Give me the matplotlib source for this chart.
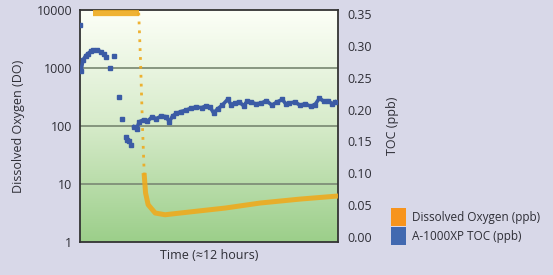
import numpy as np
import matplotlib.pyplot as plt
from matplotlib.patches import Patch

# dissolved oxygen (ppb), left log axis; time in hours
do_plateau_t = [0.59, 2.72]
do_plateau = [9000, 9000]
do_drop_t = [2.72, 2.80, 2.90, 2.98]
do_drop = [9000, 1500, 90, 14]
do_tail_t = [2.98, 3.04, 3.16, 3.49, 3.95, 5.12, 6.76, 8.39, 10.26, 12.0]
do_tail = [14, 7, 4.4, 3.16, 2.95, 3.3, 3.85, 4.7, 5.5, 6.2]

# A-1000XP TOC (ppb), right linear axis
toc_start_t = [0.03, 0.12, 0.24, 0.36, 0.50, 0.61, 0.78, 0.94, 1.08, 1.19]
toc_start = [0.261, 0.278, 0.284, 0.288, 0.292, 0.293, 0.293, 0.291, 0.287, 0.283]
toc_dots_t = [0.0, 1.40, 1.56, 1.80, 1.96, 2.12, 2.19, 2.26, 2.37]
toc_dots = [0.333, 0.265, 0.284, 0.219, 0.186, 0.157, 0.153, 0.150, 0.145]
toc_main_t = [2.50, 2.62, 2.75, 2.95, 3.13, 3.33, 3.55, 3.78, 3.99, 4.15, 4.30,
              4.48, 4.70, 4.92, 5.14, 5.40, 5.65, 5.88, 6.05, 6.21, 6.40, 6.62,
              6.87, 7.03, 7.20, 7.42, 7.61, 7.78, 7.94, 8.18, 8.43, 8.68, 8.93,
              9.18, 9.42, 9.58, 9.75, 10.0, 10.24, 10.50, 10.74, 10.95, 11.15,
              11.35, 11.56, 11.75, 11.89]
toc_main = [0.173, 0.170, 0.181, 0.184, 0.182, 0.188, 0.186, 0.190, 0.189, 0.181,
            0.190, 0.194, 0.197, 0.199, 0.202, 0.204, 0.203, 0.206, 0.204, 0.195,
            0.201, 0.207, 0.216, 0.208, 0.210, 0.212, 0.206, 0.213, 0.212, 0.209,
            0.210, 0.214, 0.207, 0.212, 0.216, 0.209, 0.210, 0.212, 0.207, 0.209,
            0.205, 0.208, 0.218, 0.213, 0.214, 0.209, 0.212]

left_ticks = [1, 10, 100, 1000, 10000]
right_ticks = [0.0, 0.05, 0.10, 0.15, 0.20, 0.25, 0.30, 0.35]

orange = '#eeaa1e'
blue = '#3b5ba5'
txt = '#2e2e36'

plt.rcParams['font.family'] = ['Open Sans', 'DejaVu Sans']

fig = plt.figure(figsize=(5.53, 2.75), dpi=100, facecolor='#d8d8e8')
ax = fig.add_axes([0.1454, 0.12, 0.4651, 0.8436])

# green gradient background of the plot area
grad = np.linspace(0, 1, 256)[:, None]
top = np.array([0.99, 1.0, 0.97])
mid = np.array([0.84, 0.92, 0.79])
bot = np.array([0.61, 0.81, 0.54])
rgb = np.where(grad < 0.5,
               top + (mid - top) * (grad / 0.5),
               mid + (bot - mid) * ((grad - 0.5) / 0.5))
img = rgb.reshape(256, 1, 3)
ax.imshow(img, extent=[0, 1, 0, 1], transform=ax.transAxes, aspect='auto', zorder=0)

ax.set_yscale('log')
ax.set_xlim(0, 12)
ax.set_ylim(1, 10000)
ax.set_yticks(left_ticks)
ax.set_yticklabels([str(v) for v in left_ticks])
ax.minorticks_off()
ax.set_xticks([])
ax.tick_params(axis='y', length=0, labelsize=9, colors=txt, pad=6)
for y in [10, 100, 1000]:
    ax.axhline(y, color='#7f8f78', lw=1.3, zorder=1)
for s in ax.spines.values():
    s.set_color('#333333')
    s.set_linewidth(1.3)

ax.plot(do_plateau_t, do_plateau, color=orange, lw=4.5, alpha=0.9, solid_capstyle='butt', zorder=3)
ax.plot(do_drop_t, do_drop, color=orange, lw=2, ls=(0, (1, 2.2)), alpha=0.9, zorder=3)
ax.plot(do_tail_t, do_tail, color=orange, lw=3.6, alpha=0.9, zorder=3)

ax.set_ylabel('Dissolved Oxygen (DO)', fontsize=9, color=txt, labelpad=8)
ax.set_xlabel('Time (\u224812 hours)', fontsize=9, color=txt, labelpad=5)

ax2 = ax.twinx()
ax2.set_ylim(-0.0078, 0.3563)
ax2.set_yticks(right_ticks)
ax2.set_yticklabels(['%.2f' % v for v in right_ticks])
ax2.tick_params(axis='y', length=0, labelsize=9, colors=txt, pad=7)
for s in ax2.spines.values():
    s.set_visible(False)

ax2.plot(toc_start_t, toc_start, color=blue, lw=2.6, marker='s', ms=2.6, zorder=4)
ax2.plot(toc_dots_t, toc_dots, color=blue, lw=0, marker='s', ms=3.2, zorder=4)
ax2.plot(toc_main_t, toc_main, color=blue, lw=2.6, marker='s', ms=2.6, zorder=4)
ax2.set_ylabel('TOC (ppb)', fontsize=9, color=txt, labelpad=10)

handles = [Patch(facecolor='#f7941d', edgecolor='none', label='Dissolved Oxygen (ppb)'),
           Patch(facecolor='#4169b0', edgecolor='none', label='A-1000XP TOC (ppb)')]
fig.legend(handles=handles, loc='upper left', bbox_to_anchor=(0.688, 0.282),
           frameon=False, fontsize=8.5, handlelength=1.3, handleheight=1.9,
           handletextpad=0.5, labelspacing=0.15, labelcolor=txt)

fig.savefig('out.png', dpi=100, facecolor=fig.get_facecolor())
